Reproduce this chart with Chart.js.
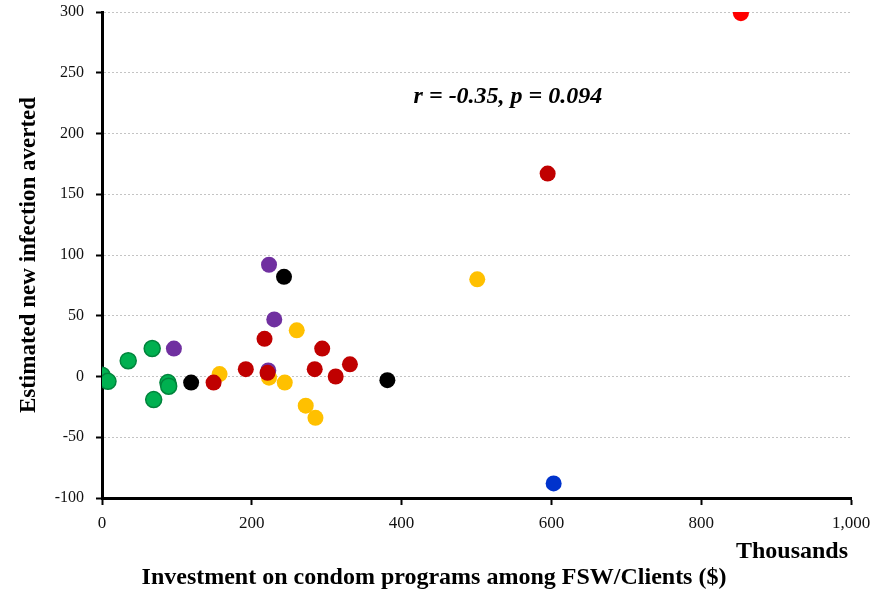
<!DOCTYPE html>
<html>
<head>
<meta charset="utf-8">
<script src="https://cdn.jsdelivr.net/npm/chart.js@4/dist/chart.umd.min.js"></script>
<style>
    body { margin: 0; background: #fff; }
    #wrap { width: 888px; height: 595px; position: relative; }
</style>
</head>
<body>
<div id="wrap"><canvas id="chart"></canvas></div>
<script>
// Datos (x en miles de $, y = infecciones evitadas)
const redX = [149, 192, 217, 221, 284, 294, 312, 331, 595];
const redY = [-5, 6, 31, 3, 6, 23, 0, 10, 167];
const brightRedX = [853];
const brightRedY = [299];
const yellowX = [157, 223, 260, 244, 272, 285, 501];
const yellowY = [2, -1, 38, -5, -24, -34, 80];
const purpleX = [96, 223, 230, 222];
const purpleY = [23, 92, 47, 5];
const blackX = [119, 243, 381];
const blackY = [-5, 82, -3];
const greenX = [0, 8, 35, 67, 69, 88, 89];
const greenY = [1, -4, 13, 23, -19, -5, -8];
const blueX = [603];
const blueY = [-88];

const xTicks = [0, 200, 400, 600, 800, 1000];
const yTicks = [-100, -50, 0, 50, 100, 150, 200, 250, 300];

const annotationText = 'r = -0.35, p = 0.094';

// Unir x e y en puntos
function toPoints(xs, ys) {
    return xs.map((x, i) => ({ x: x, y: ys[i] }));
}

function serie(xs, ys, color, border) {
    return {
        data: toPoints(xs, ys),
        backgroundColor: color,
        borderColor: border || color,
        borderWidth: border ? 1.5 : 0,
        pointRadius: 8,
        pointHoverRadius: 8
    };
}

// Textos extra: anotación y títulos del eje x
const textPlugin = {
    id: 'textos',
    afterDraw(chart) {
        const ctx = chart.ctx;
        const xs = chart.scales.x;
        const ys = chart.scales.y;
        ctx.save();
        ctx.fillStyle = '#000';
        ctx.textBaseline = 'middle';

        ctx.font = 'italic bold 24px "Liberation Serif"';
        ctx.textAlign = 'center';
        ctx.fillText(annotationText, xs.getPixelForValue(542), ys.getPixelForValue(230));

        ctx.font = 'bold 24px "Liberation Serif"';
        ctx.textAlign = 'right';
        ctx.fillText('Thousands', 848, 552);

        ctx.textAlign = 'center';
        ctx.fillText('Investment on condom programs among FSW/Clients ($)', 434, 578);
        ctx.restore();
    }
};

new Chart(document.getElementById('chart'), {
    type: 'scatter',
    data: {
        datasets: [
            serie(redX, redY, '#c00000'),
            serie(brightRedX, brightRedY, '#ff0000'),
            serie(yellowX, yellowY, '#ffc000'),
            serie(purpleX, purpleY, '#7030a0'),
            serie(blackX, blackY, '#000000'),
            serie(greenX, greenY, '#00b050', '#00843c'),
            serie(blueX, blueY, '#0033cc')
        ]
    },
    options: {
        responsive: true,
        maintainAspectRatio: false,
        animation: false,
        layout: { padding: { top: 12, right: 37, bottom: 0, left: 0 } },
        plugins: {
            legend: { display: false },
            tooltip: { enabled: false }
        },
        scales: {
            x: {
                type: 'linear',
                min: 0,
                max: 1000,
                afterBuildTicks: (scale) => { scale.ticks = xTicks.map(v => ({ value: v })); },
                afterFit: (scale) => { scale.height = 97; },
                ticks: {
                    padding: 8,
                    color: '#111',
                    font: { family: '"Liberation Serif"', size: 17 }
                },
                grid: {
                    drawOnChartArea: false,
                    tickColor: '#000',
                    tickLength: 7,
                    tickWidth: 2
                },
                border: { color: '#000', width: 3 }
            },
            y: {
                type: 'linear',
                min: -100,
                max: 300,
                afterBuildTicks: (scale) => { scale.ticks = yTicks.map(v => ({ value: v })); },
                afterFit: (scale) => {
                    scale.width = 102;
                    scale.paddingTop = 0;
                    scale.paddingBottom = 0;
                },
                ticks: {
                    padding: 12,
                    color: '#111',
                    font: { family: '"Liberation Serif"', size: 16 }
                },
                grid: {
                    color: '#c4c4c4',
                    lineWidth: 1,
                    tickColor: '#000',
                    tickLength: 6,
                    tickWidth: 2
                },
                border: { color: '#000', width: 3, dash: [2, 2] },
                title: {
                    display: true,
                    text: 'Estimated new infection averted',
                    color: '#000',
                    padding: { top: 15 },
                    font: { family: '"Liberation Serif"', size: 23, weight: 'bold' }
                }
            }
        }
    },
    plugins: [textPlugin]
});
</script>
</body>
</html>
